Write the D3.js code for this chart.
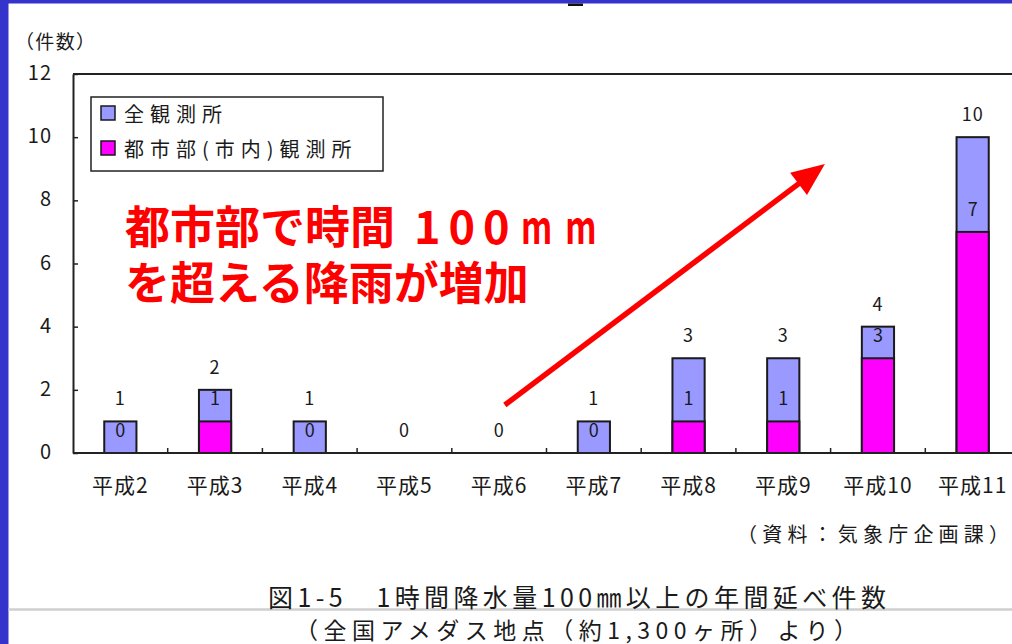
<!DOCTYPE html>
<html lang="ja">
<head>
<meta charset="utf-8">
<script src="https://cdn.jsdelivr.net/npm/d3@7"></script>
<style>
  html, body { margin: 0; padding: 0; background: #fff; }
  svg { display: block; }
  text { font-family: "Noto Sans CJK JP", "Noto Sans", sans-serif; fill: #1a1a1a; }
</style>
</head>
<body>
<svg id="chart" width="1012" height="644"></svg>
<script>
// 年次（平成2〜11年）
const categories = ["平成2", "平成3", "平成4", "平成5", "平成6", "平成7", "平成8", "平成9", "平成10", "平成11"];
// 全観測所の件数
const allStations = [1, 2, 1, 0, 0, 1, 3, 3, 4, 10];
// 都市部（市内）観測所の件数
const urbanStations = [0, 1, 0, 0, 0, 0, 1, 1, 3, 7];
const seriesNames = ["全観測所", "都市部(市内)観測所"];
const seriesColors = ["#9999ff", "#ff00ff"];
const yTicks = [0, 2, 4, 6, 8, 10, 12];
// 注記の矢印（カテゴリ位置, 件数）
const arrowFrom = [4.56, 1.52];
const arrowTo = [7.94, 9.15];

const svg = d3.select("#chart");

// 外枠（スライドの青い縁）
svg.append("rect").attr("x", 0).attr("y", 0).attr("width", 1012).attr("height", 3.5).attr("fill", "#3433cc");
svg.append("rect").attr("x", 0).attr("y", 0).attr("width", 8.5).attr("height", 644).attr("fill", "#3433cc");
svg.append("rect").attr("x", 568).attr("y", 3.5).attr("width", 15).attr("height", 2.5).attr("fill", "#111");

const plot = { left: 73, top: 74, step: 94.7, bottom: 453 };
const plotRight = plot.left + plot.step * categories.length;

const x = d3.scaleBand()
  .domain(categories)
  .range([plot.left, plotRight])
  .paddingInner(0.66)
  .paddingOuter(0.33);
const xi = d3.scaleLinear().domain([0, categories.length]).range([plot.left, plotRight]);
const y = d3.scaleLinear().domain([0, 12]).range([plot.bottom, plot.top]);

// プロット枠（上辺）
svg.append("line")
  .attr("x1", plot.left).attr("x2", plotRight)
  .attr("y1", y(12)).attr("y2", y(12))
  .attr("stroke", "#222").attr("stroke-width", 2);

// Y軸（内向き目盛）
const yAxis = svg.append("g")
  .attr("transform", `translate(${plot.left},0)`)
  .call(d3.axisLeft(y).tickValues(yTicks).tickSize(-5).tickSizeOuter(0).tickPadding(21));
yAxis.select(".domain").attr("stroke", "#222").attr("stroke-width", 2);
yAxis.selectAll(".tick line").attr("stroke", "#222").attr("stroke-width", 1.5);
yAxis.selectAll(".tick text")
  .attr("font-size", 20).attr("fill", "#1a1a1a")
  .attr("letter-spacing", 1)
  .style("font-family", '"Noto Sans CJK JP", sans-serif')
  .attr("dy", "0.33em")
  .attr("transform", "translate(0,-1)");

svg.append("text")
  .attr("x", 15).attr("y", 40)
  .attr("dominant-baseline", "central")
  .attr("font-size", 19)
  .attr("textLength", 80).attr("lengthAdjust", "spacing")
  .text("（件数）");

// 棒（全観測所を背面、都市部を前面に重ねる）
const rows = categories.map((c, i) => ({ cat: c, all: allStations[i], urban: urbanStations[i] }));
const barW = x.bandwidth();

svg.append("g").selectAll("rect")
  .data(rows.filter(d => d.all > 0))
  .join("rect")
  .attr("x", d => x(d.cat)).attr("width", barW)
  .attr("y", d => y(d.all)).attr("height", d => y(0) - y(d.all))
  .attr("fill", seriesColors[0]).attr("stroke", "#1a1a1a").attr("stroke-width", 2);

svg.append("g").selectAll("rect")
  .data(rows.filter(d => d.urban > 0))
  .join("rect")
  .attr("x", d => x(d.cat)).attr("width", barW)
  .attr("y", d => y(d.urban)).attr("height", d => y(0) - y(d.urban))
  .attr("fill", seriesColors[1]).attr("stroke", "#1a1a1a").attr("stroke-width", 2);

// X軸（基線とカテゴリ境界の目盛）
svg.append("line")
  .attr("x1", plot.left).attr("x2", plotRight)
  .attr("y1", y(0)).attr("y2", y(0))
  .attr("stroke", "#222").attr("stroke-width", 2);
svg.append("g").selectAll("line")
  .data(d3.range(1, categories.length))
  .join("line")
  .attr("x1", i => xi(i)).attr("x2", i => xi(i))
  .attr("y1", y(0)).attr("y2", y(0) - 5)
  .attr("stroke", "#222").attr("stroke-width", 1.5);

svg.append("g").selectAll("text")
  .data(categories)
  .join("text")
  .attr("x", d => x(d) + barW / 2)
  .attr("y", 484)
  .attr("text-anchor", "middle")
  .attr("dominant-baseline", "central")
  .attr("font-size", 21)
  .attr("letter-spacing", 1)
  .text(d => d);

// データラベル（値の位置から一定距離上に配置）
const labelG = svg.append("g").attr("font-size", 18).attr("text-anchor", "middle");
labelG.selectAll("text.all")
  .data(rows)
  .join("text").attr("class", "all")
  .attr("x", d => x(d.cat) + barW / 2)
  .attr("y", d => y(d.all) - 24)
  .attr("dominant-baseline", "central")
  .attr("letter-spacing", 1)
  .text(d => d.all);
// 都市部の値が全体と同じ位置になる年は、ラベルが重なるため一つにまとめる
labelG.selectAll("text.urban")
  .data(rows.filter(d => d.urban !== d.all))
  .join("text").attr("class", "urban")
  .attr("x", d => x(d.cat) + barW / 2)
  .attr("y", d => y(d.urban) - 24)
  .attr("dominant-baseline", "central")
  .text(d => d.urban);

// 凡例
const legend = svg.append("g");
legend.append("rect")
  .attr("x", 91).attr("y", 97).attr("width", 292).attr("height", 74)
  .attr("fill", "#fff").attr("stroke", "#222").attr("stroke-width", 1.5);
const legendRows = legend.selectAll("g.row")
  .data(seriesNames)
  .join("g").attr("class", "row")
  .attr("transform", (d, i) => `translate(0,${113 + i * 35})`);
legendRows.append("rect")
  .attr("x", 101).attr("y", -7).attr("width", 14).attr("height", 14)
  .attr("fill", (d, i) => seriesColors[i])
  .attr("stroke", "#1a1a1a").attr("stroke-width", 1.5);
legendRows.append("text")
  .attr("x", 124).attr("y", 0)
  .attr("dominant-baseline", "central")
  .attr("font-size", 20)
  .attr("letter-spacing", 6)
  .text(d => d);

// 注記
const note = svg.append("g");
note.append("text")
  .attr("x", 125).attr("y", 224)
  .attr("dominant-baseline", "central")
  .attr("font-size", 45).attr("font-weight", "bold")
  .style("fill", "#ff0000")
  .text("都市部で時間");
note.append("text")
  .attr("x", 414).attr("y", 224)
  .attr("dominant-baseline", "central")
  .attr("font-size", 45).attr("font-weight", "bold")
  .attr("letter-spacing", 8)
  .style("fill", "#ff0000")
  .text("100");
// 単位は細めの字形で字間を空けて描く
note.append("g")
  .attr("transform", "translate(521,224) scale(0.72,1)")
  .append("text")
  .attr("x", 0).attr("y", 0)
  .attr("dominant-baseline", "central")
  .attr("font-size", 45).attr("font-weight", "bold")
  .attr("letter-spacing", 18)
  .style("fill", "#ff0000")
  .text("mm");
note.append("text")
  .attr("x", 125).attr("y", 280)
  .attr("dominant-baseline", "central")
  .attr("font-size", 45).attr("font-weight", "bold")
  .style("fill", "#ff0000")
  .text("を超える降雨が増加");

// 増加傾向を示す矢印
const ax0 = xi(arrowFrom[0]), ay0 = y(arrowFrom[1]);
const ax1 = xi(arrowTo[0]), ay1 = y(arrowTo[1]);
const len = Math.hypot(ax1 - ax0, ay1 - ay0);
const ux = (ax1 - ax0) / len, uy = (ay1 - ay0) / len;
const headL = 33, headW = 14;
const bx = ax1 - ux * headL, by = ay1 - uy * headL;
svg.append("line")
  .attr("x1", ax0).attr("y1", ay0)
  .attr("x2", bx + ux * 2).attr("y2", by + uy * 2)
  .attr("stroke", "#ff0000").attr("stroke-width", 5.5);
svg.append("path")
  .attr("d", d3.line()([
    [ax1, ay1],
    [bx - uy * headW, by + ux * headW],
    [bx + uy * headW, by - ux * headW]
  ]) + "Z")
  .attr("fill", "#ff0000");

// 資料出典
svg.append("text")
  .attr("x", 737).attr("y", 533)
  .attr("dominant-baseline", "central")
  .attr("font-size", 20)
  .attr("textLength", 272).attr("lengthAdjust", "spacing")
  .text("（資料：気象庁企画課）");

// 図番号とタイトル
svg.append("line")
  .attr("x1", 8.5).attr("x2", 1012)
  .attr("y1", 609.5).attr("y2", 609.5)
  .attr("stroke", "#cfcfcf").attr("stroke-width", 2.5);
svg.append("text")
  .attr("x", 268).attr("y", 596)
  .attr("dominant-baseline", "central")
  .attr("font-size", 25)
  .attr("textLength", 618).attr("lengthAdjust", "spacing")
  .text("図1-5　1時間降水量100㎜以上の年間延べ件数");
svg.append("text")
  .attr("x", 295).attr("y", 629)
  .attr("dominant-baseline", "central")
  .attr("font-size", 23)
  .attr("textLength", 562).attr("lengthAdjust", "spacing")
  .text("（全国アメダス地点（約1,300ヶ所）より）");
</script>
</body>
</html>
